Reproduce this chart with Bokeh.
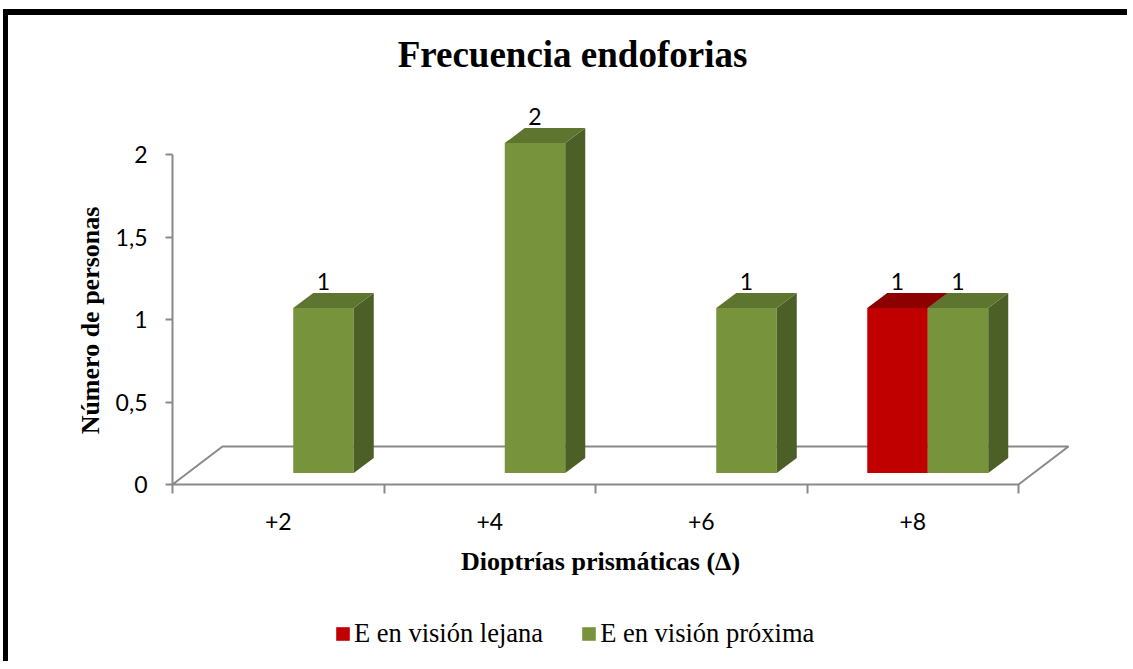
import math
from bokeh.plotting import figure
from bokeh.models import (Range1d, FixedTicker, CustomJSTickFormatter, ColumnDataSource,
                          Legend, LegendItem, LinearAxis, Label)
from bokeh.core.properties import value
from bokeh.embed import file_html
from bokeh.resources import INLINE

# ---------------- data ----------------
categories = ["+2", "+4", "+6", "+8"]
series_names = ["E en visión lejana", "E en visión próxima"]
lejana = [0, 0, 0, 1]
proxima = [1, 2, 1, 1]
y_ticks = [0, 0.5, 1, 1.5, 2]

title_text = "Frecuencia endoforias"
x_title = "Dioptrías prismáticas (Δ)"
y_title = "Número de personas"

# ---------------- style / layout ----------------
GRAY = "#898989"
RED = dict(front="#C00000", top="#8C0000", side="#6E0000")
GREEN = dict(front="#77933C", top="#5E7530", side="#4C5F27")
SERIF = "Liberation Serif"
SANS = "Lato"

W, H = 1124, 652          # canvas size (placed at page x=8, y=15)
PX_CAT = 211.5            # pixels per category on the front plane
PX_UNIT = 165.0           # pixels per value unit
ORIGIN_X, ORIGIN_Y = 164, 469   # canvas pixel of data point (0, 0)

DX = 50 / PX_CAT          # depth offset of the floor, in data units
DY = 38 / PX_UNIT
D0, D1 = 0.3, 0.7         # bar depth (fraction of floor depth)
BAR_W = 60.5 / PX_CAT
LABEL_LIFT = 8 / PX_UNIT  # extra lift of the value labels


def px_x(ref_x):   # reference-page pixel -> data x (layout helper)
    return (ref_x - 8 - ORIGIN_X) / PX_CAT


def px_y(ref_y):
    return (ORIGIN_Y - (ref_y - 15)) / PX_UNIT


p = figure(width=W, height=H, output_backend="svg", toolbar_location=None,
           x_range=Range1d(-ORIGIN_X / PX_CAT, (W - ORIGIN_X) / PX_CAT),
           y_range=Range1d(-(H - ORIGIN_Y) / PX_UNIT, ORIGIN_Y / PX_UNIT),
           x_axis_type=None, y_axis_type=None, title=None, min_border=0)
p.outline_line_color = None
p.background_fill_color = "white"
p.border_fill_color = "white"
p.styles = {"margin-left": "3px", "margin-top": "9px",
            "border-left": "5px solid black", "border-top": "6px solid black"}

# axes (fixed at the data origin)
n = len(categories)
yaxis = LinearAxis(fixed_location=0,
                   ticker=FixedTicker(ticks=y_ticks, minor_ticks=[]),
                   formatter=CustomJSTickFormatter(code="return String(tick).replace('.', ',');"),
                   axis_line_color=None, major_tick_out=7, major_tick_in=0,
                   major_tick_line_color=GRAY, major_tick_line_width=2,
                   minor_tick_line_color=None, major_label_standoff=18,
                   major_label_text_font=SANS, major_label_text_font_size="23px",
                   major_label_text_color="black")
p.add_layout(yaxis, "left")

xaxis = LinearAxis(fixed_location=0,
                   ticker=FixedTicker(ticks=[i + 0.5 for i in range(n)],
                                      minor_ticks=list(range(n + 1))),
                   formatter=CustomJSTickFormatter(args=dict(labels=categories),
                                                   code="return labels[Math.round(tick - 0.5)];"),
                   axis_line_color=None, major_tick_out=0, major_tick_in=0,
                   major_tick_line_color=None,
                   minor_tick_out=9, minor_tick_in=0,
                   minor_tick_line_color=GRAY, minor_tick_line_width=2,
                   major_label_standoff=19,
                   major_label_text_font=SANS, major_label_text_font_size="23px",
                   major_label_text_color="black")
p.add_layout(xaxis, "below")

# floor and vertical axis line
p.patch([0, n, n + DX, DX], [0, 0, DY, DY], fill_color=None,
        line_color=GRAY, line_width=2)
p.line([0, 0], [0, max(y_ticks)], line_color=GRAY, line_width=2)


def bar_faces(vals, slot):
    out = {k: dict(xs=[], ys=[]) for k in ("front", "top", "side")}
    lab = dict(x=[], y=[], text=[])
    ddx, ddy = (D1 - D0) * DX, (D1 - D0) * DY
    for i, v in enumerate(vals):
        if v <= 0:
            continue
        x0 = i + 0.5 - BAR_W + slot * BAR_W + D0 * DX
        x1 = x0 + BAR_W
        y0 = D0 * DY
        y1 = v + D0 * DY
        out["front"]["xs"].append([x0, x1, x1, x0])
        out["front"]["ys"].append([y0, y0, y1, y1])
        out["top"]["xs"].append([x0, x1, x1 + ddx, x0 + ddx])
        out["top"]["ys"].append([y1, y1, y1 + ddy, y1 + ddy])
        out["side"]["xs"].append([x1, x1 + ddx, x1 + ddx, x1])
        out["side"]["ys"].append([y0, y0 + ddy, y1 + ddy, y1])
        lab["x"].append((x0 + x1) / 2)
        lab["y"].append(y1 + ddy + LABEL_LIFT)
        lab["text"].append(str(v))
    return out, lab


legend_items = []
labels_all = dict(x=[], y=[], text=[])
for slot, (vals, cols, name) in enumerate([(lejana, RED, series_names[0]),
                                           (proxima, GREEN, series_names[1])]):
    faces, lab = bar_faces(vals, slot)
    fr = p.patches("xs", "ys", source=ColumnDataSource(faces["front"]),
                   fill_color=cols["front"], line_color=None)
    p.patches("xs", "ys", source=ColumnDataSource(faces["side"]),
              fill_color=cols["side"], line_color=None)
    p.patches("xs", "ys", source=ColumnDataSource(faces["top"]),
              fill_color=cols["top"], line_color=None)
    legend_items.append(LegendItem(label=name, renderers=[fr]))
    for k in labels_all:
        labels_all[k] += lab[k]

p.text("x", "y", "text", source=ColumnDataSource(labels_all),
       text_align="center", text_baseline="alphabetic", y_offset=-3,
       text_font=value(SANS), text_font_size="23px", text_color="black")

# titles
p.add_layout(Label(x=px_x(572), y=px_y(54), text=title_text,
                   text_align="center", text_baseline="alphabetic",
                   text_font=SERIF, text_font_style="bold", text_font_size="37px",
                   text_color="black"))
p.add_layout(Label(x=px_x(89.5), y=px_y(320), text=y_title, angle=math.pi / 2,
                   text_align="center", text_baseline="alphabetic",
                   text_font=SERIF, text_font_style="bold", text_font_size="26px",
                   text_color="black"))
p.add_layout(Label(x=px_x(600), y=px_y(561), text=x_title,
                   text_align="center", text_baseline="alphabetic",
                   text_font=SERIF, text_font_style="bold", text_font_size="26px",
                   text_color="black"))

legend = Legend(items=legend_items, orientation="horizontal",
                location=(326, 18), glyph_width=17, glyph_height=17,
                label_standoff=3, spacing=37, padding=0, margin=0,
                border_line_color=None, background_fill_alpha=0,
                label_text_font=SERIF, label_text_font_size="26.5px",
                label_text_color="black")
p.add_layout(legend, "center")

open("out.html", "w").write(file_html(p, INLINE))
